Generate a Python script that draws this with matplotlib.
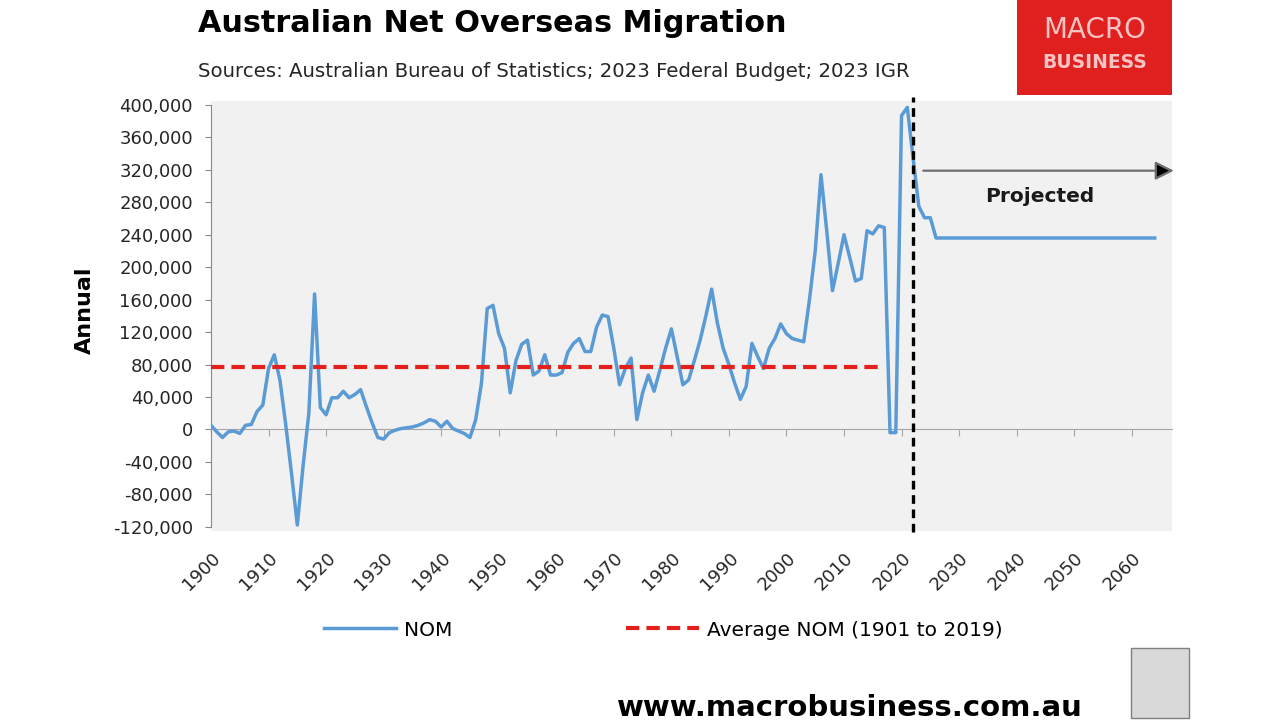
import numpy as np
import matplotlib
matplotlib.use('Agg')
import matplotlib.pyplot as plt
from matplotlib.patches import Rectangle

# historic + budget years, one value per year (persons)
years = np.arange(1900, 2027)
nom = [
    5, -3, -10, -3, -2, -5, 5, 6, 22, 30,            # 1900s
    75, 92, 60, 5, -55, -118, -45, 20, 167, 27,      # 1910s
    18, 39, 39, 47, 39, 43, 49, 28, 8, -10,          # 1920s
    -12, -4, -1, 1, 2, 3, 5, 8, 12, 10,              # 1930s
    3, 10, 1, -2, -5, -10, 12, 57, 149, 153,         # 1940s
    118, 100, 45, 85, 105, 110, 67, 72, 92, 67,      # 1950s
    67, 70, 95, 106, 112, 96, 96, 126, 141, 139,     # 1960s
    100, 55, 75, 88, 12, 45, 67, 47, 73, 100,        # 1970s
    124, 90, 55, 61, 85, 110, 140, 173, 131, 100,    # 1980s
    80, 57, 37, 53, 106, 90, 75, 100, 112, 130,      # 1990s
    118, 112, 110, 108, 160, 220, 314, 245, 171, 205,  # 2000s
    240, 212, 183, 186, 245, 241, 251, 249, -4, -4,  # 2010s
    387, 397, 335, 275, 261, 261, 236,               # 2020-2026
]
nom = np.array(nom) * 1000

# IGR long-run assumption (flat)
proj_years = [2026, 2064]
proj_vals = [236000, 236000]

avg_nom = 77500
avg_years = [1900, 2017]
proj_start = 2022

x_all = np.concatenate([years, proj_years])
y_all = np.concatenate([nom, proj_vals])

fig = plt.figure(figsize=(12.8, 7.21), dpi=100)
ax = fig.add_axes([211/1280, 1 - 526.7/721, 961/1280, 421.7/721])
ax.set_facecolor('none')
ax.add_patch(Rectangle((0, -0.01), 1, 1.02, transform=ax.transAxes,
                       facecolor='#f1f1f1', edgecolor='none', zorder=0, clip_on=False))

ax.plot(x_all, y_all, color='#5b9bd5', lw=2.5, zorder=3, label='NOM')
ax.plot(avg_years, [avg_nom, avg_nom], color='#e3201b', lw=3, ls=(0, (3.2, 1.7)),
        zorder=4, label='Average NOM (1901 to 2019)')
ax.plot([proj_start, proj_start], [-126000, 410000], color='black', lw=2.4,
        ls=(0, (2.6, 1.7)), zorder=5, clip_on=False)

# projection arrow: grey shaft, black head
ax.annotate('', xy=(2067.8, 319000), xytext=(2023.3, 319000),
            arrowprops=dict(arrowstyle='-|>', ec='#6e6e6e', fc='black', lw=1.6,
                            mutation_scale=28), annotation_clip=False)
ax.text(2044, 287000, 'Projected', fontsize=14.5, fontweight='bold',
        ha='center', va='center', color='#1a1a1a')

ax.set_xlim(1900, 2067)
ax.set_ylim(-120000, 400000)
ax.set_yticks(np.arange(-120000, 400001, 40000))
ax.yaxis.set_major_formatter(matplotlib.ticker.FuncFormatter(lambda v, p: f'{int(v):,}'))
ax.tick_params(axis='y', labelsize=13, length=4, color='#898989', pad=9, labelcolor='#262626')

for s in ['top', 'right']:
    ax.spines[s].set_visible(False)
ax.spines['left'].set_color('#898989')
ax.spines['bottom'].set_position(('data', 0))
ax.spines['bottom'].set_color('#a6a6a6')
ax.set_xticks(np.arange(1900, 2061, 10))
ax.tick_params(axis='x', length=5, color='#a6a6a6', labelbottom=False)

sec = ax.secondary_xaxis('bottom')
sec.set_xticks(np.arange(1900, 2061, 10))
sec.set_xticklabels([str(y) for y in range(1900, 2061, 10)], rotation=45,
                    ha='right', va='top', rotation_mode='anchor')
sec.tick_params(length=0, pad=16, labelsize=13, labelcolor='#262626')
sec.spines['bottom'].set_visible(False)

fig.text(85/1280, 1 - 310/721, 'Annual', rotation=90, fontsize=16, fontweight='bold',
         ha='center', va='center')

fig.legend(loc='center', bbox_to_anchor=(0.518, 1 - 630/721), ncol=2, frameon=False,
           fontsize=14.5, handlelength=3.6, columnspacing=8.6, handletextpad=0.4)

fig.text(198/1280, 1 - 32/721, 'Australian Net Overseas Migration', fontsize=21.8,
         fontweight='bold', ha='left', va='baseline')
fig.text(198/1280, 1 - 77/721,
         'Sources: Australian Bureau of Statistics; 2023 Federal Budget; 2023 IGR',
         fontsize=14.2, ha='left', va='baseline', color='#262626')

# logo block
fig.patches.append(Rectangle((1017/1280, 1 - 95/721), 155/1280, 95/721,
                             transform=fig.transFigure, facecolor='#e0201f', edgecolor='none'))
fig.text(1095/1280, 1 - 30/721, 'MACRO', fontsize=20, color='#f7c3c3',
         ha='center', va='center')
fig.text(1095/1280, 1 - 63/721, 'BUSINESS', fontsize=13.5, color='#f7c3c3',
         ha='center', va='center', fontweight='bold')

fig.text(617/1280, 1 - 716/721, 'www.macrobusiness.com.au', fontsize=21,
         fontweight='bold', ha='left', va='baseline')
fig.patches.append(Rectangle((1131/1280, 1 - 718/721), 58/1280, 70/721,
                             transform=fig.transFigure, facecolor='#d9d9d9',
                             edgecolor='#7f7f7f', lw=1))

fig.savefig('out.png', dpi=100)
